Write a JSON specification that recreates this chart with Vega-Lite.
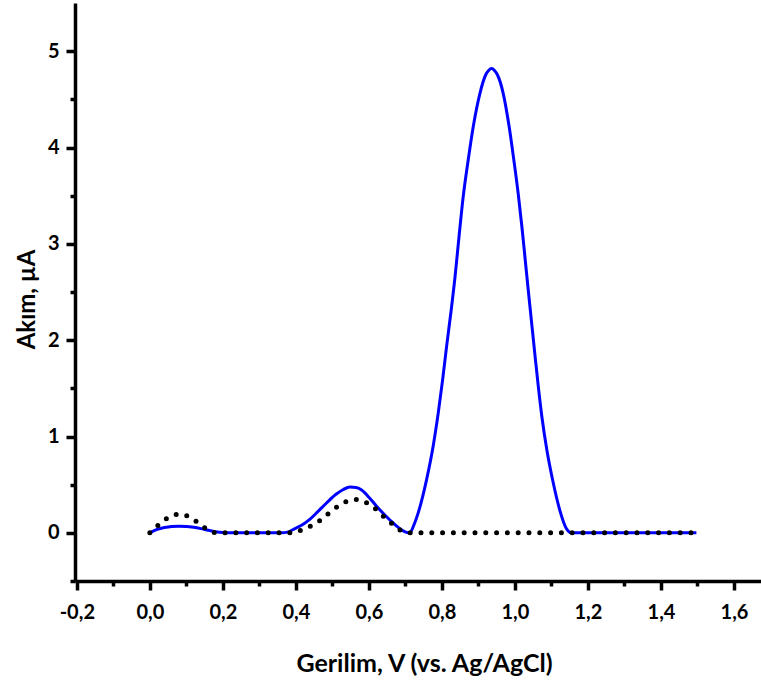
{
  "$schema": "https://vega.github.io/schema/vega-lite/v6.json",
  "width": 686,
  "height": 578,
  "autosize": "none",
  "padding": {"left": 75, "top": 3, "right": 0, "bottom": 102},
  "background": "white",
  "config": {
    "view": {"stroke": null},
    "axis": {
      "grid": false,
      "domainColor": "black",
      "domainWidth": 3.5,
      "tickColor": "black",
      "tickWidth": 3.5,
      "labelFont": "Lato",
      "labelFontWeight": "bold",
      "labelFontSize": 20,
      "labelColor": "black",
      "titleFont": "Lato",
      "titleFontWeight": "bold",
      "titleFontSize": 25,
      "titleColor": "black"
    }
  },
  "datasets": {
    "sample": [
      {"x": 0.0, "y": 0.0}, {"x": 0.02, "y": 0.035}, {"x": 0.04, "y": 0.055}, {"x": 0.06, "y": 0.066},
      {"x": 0.08, "y": 0.069}, {"x": 0.10, "y": 0.067}, {"x": 0.12, "y": 0.058}, {"x": 0.14, "y": 0.044},
      {"x": 0.16, "y": 0.027}, {"x": 0.18, "y": 0.012}, {"x": 0.20, "y": 0.003}, {"x": 0.22, "y": 0.0},
      {"x": 0.30, "y": 0.0}, {"x": 0.36, "y": 0.0}, {"x": 0.38, "y": 0.01}, {"x": 0.393, "y": 0.035},
      {"x": 0.42, "y": 0.09}, {"x": 0.438, "y": 0.14}, {"x": 0.46, "y": 0.22}, {"x": 0.484, "y": 0.31},
      {"x": 0.51, "y": 0.40}, {"x": 0.53, "y": 0.45}, {"x": 0.548, "y": 0.477}, {"x": 0.565, "y": 0.47},
      {"x": 0.58, "y": 0.445}, {"x": 0.60, "y": 0.37}, {"x": 0.621, "y": 0.276}, {"x": 0.645, "y": 0.18},
      {"x": 0.667, "y": 0.10}, {"x": 0.69, "y": 0.03}, {"x": 0.703, "y": 0.005}, {"x": 0.712, "y": 0.0},
      {"x": 0.722, "y": 0.07}, {"x": 0.735, "y": 0.207}, {"x": 0.758, "y": 0.553}, {"x": 0.776, "y": 0.90},
      {"x": 0.790, "y": 1.245}, {"x": 0.802, "y": 1.59}, {"x": 0.813, "y": 1.94}, {"x": 0.825, "y": 2.30},
      {"x": 0.836, "y": 2.66}, {"x": 0.847, "y": 3.08}, {"x": 0.858, "y": 3.48},
      {"x": 0.872, "y": 3.87}, {"x": 0.886, "y": 4.22}, {"x": 0.904, "y": 4.56}, {"x": 0.92, "y": 4.755},
      {"x": 0.928, "y": 4.80}, {"x": 0.936, "y": 4.82}, {"x": 0.944, "y": 4.80}, {"x": 0.952, "y": 4.755},
      {"x": 0.968, "y": 4.56}, {"x": 0.984, "y": 4.22}, {"x": 0.997, "y": 3.87}, {"x": 1.009, "y": 3.52},
      {"x": 1.019, "y": 3.18}, {"x": 1.028, "y": 2.84}, {"x": 1.037, "y": 2.50}, {"x": 1.046, "y": 2.17},
      {"x": 1.055, "y": 1.84}, {"x": 1.064, "y": 1.52}, {"x": 1.074, "y": 1.20}, {"x": 1.087, "y": 0.87},
      {"x": 1.103, "y": 0.553}, {"x": 1.125, "y": 0.207}, {"x": 1.14, "y": 0.05}, {"x": 1.155, "y": 0.0},
      {"x": 1.2, "y": 0.0}, {"x": 1.35, "y": 0.0}, {"x": 1.497, "y": 0.0}
    ],
    "blank": [
      {"x": 0.0, "y": 0.0}, {"x": 0.023, "y": 0.079}, {"x": 0.048, "y": 0.152}, {"x": 0.078, "y": 0.193},
      {"x": 0.105, "y": 0.172}, {"x": 0.129, "y": 0.114}, {"x": 0.153, "y": 0.045}, {"x": 0.175, "y": 0.005},
      {"x": 0.182, "y": 0.0}, {"x": 0.30, "y": 0.0}, {"x": 0.38, "y": 0.0}, {"x": 0.40, "y": 0.01},
      {"x": 0.416, "y": 0.03}, {"x": 0.44, "y": 0.07}, {"x": 0.466, "y": 0.128}, {"x": 0.488, "y": 0.197},
      {"x": 0.513, "y": 0.27}, {"x": 0.539, "y": 0.325}, {"x": 0.568, "y": 0.345}, {"x": 0.595, "y": 0.31},
      {"x": 0.618, "y": 0.25}, {"x": 0.64, "y": 0.172}, {"x": 0.663, "y": 0.096}, {"x": 0.689, "y": 0.02},
      {"x": 0.71, "y": 0.0}, {"x": 1.0, "y": 0.0}, {"x": 1.49, "y": 0.0}
    ]
  },
  "layer": [
    {
      "data": {"name": "sample"},
      "mark": {"type": "line", "color": "#0000FF", "strokeWidth": 3, "interpolate": "monotone", "clip": true},
      "encoding": {
        "x": {
          "field": "x", "type": "quantitative",
          "scale": {"domain": [-0.205, 1.674], "nice": false, "zero": false},
          "axis": {
            "orient": "bottom",
            "values": [-0.2, 0, 0.2, 0.4, 0.6, 0.8, 1.0, 1.2, 1.4, 1.6],
            "labelExpr": "replace(replace(format(datum.value, '.1f'), '.', ','), '\u2212', '-')",
            "tickSize": 9,
            "labelPadding": 12,
            "labelBaseline": "top",
            "title": "Gerilim, V (vs. Ag/AgCl)",
            "titleX": 349,
            "titleY": 90,
            "titleBaseline": "alphabetic",
            "titleAlign": "center",
            "titleAnchor": null
          }
        },
        "y": {
          "field": "y", "type": "quantitative",
          "scale": {"domain": [-0.5, 5.5], "nice": false, "zero": false},
          "axis": {
            "orient": "left",
            "values": [0, 1, 2, 3, 4, 5],
            "tickSize": 9,
            "labelPadding": 7,
            "title": "Akım, µA",
            "titleFontSize": 24,
            "titleX": -41,
            "titleY": 296,
            "titleAngle": 270,
            "titleBaseline": "alphabetic",
            "titleAlign": "center",
            "titleAnchor": null
          }
        }
      }
    },
    {
      "data": {"name": "blank"},
      "mark": {"type": "line", "color": "black", "strokeWidth": 5, "strokeCap": "round", "strokeDash": [0, 10.8], "interpolate": "monotone"},
      "encoding": {
        "x": {
          "field": "x", "type": "quantitative",
          "axis": {
            "orient": "bottom",
            "values": [-0.1, 0.1, 0.3, 0.5, 0.7, 0.9, 1.1, 1.3, 1.5],
            "labels": false, "domain": false, "tickSize": 5, "title": null
          }
        },
        "y": {
          "field": "y", "type": "quantitative",
          "axis": {
            "orient": "left",
            "values": [-0.5, 0.5, 1.5, 2.5, 3.5, 4.5],
            "labels": false, "domain": false, "tickSize": 5, "title": null
          }
        }
      }
    }
  ],
  "resolve": {"axis": {"x": "independent", "y": "independent"}}
}
